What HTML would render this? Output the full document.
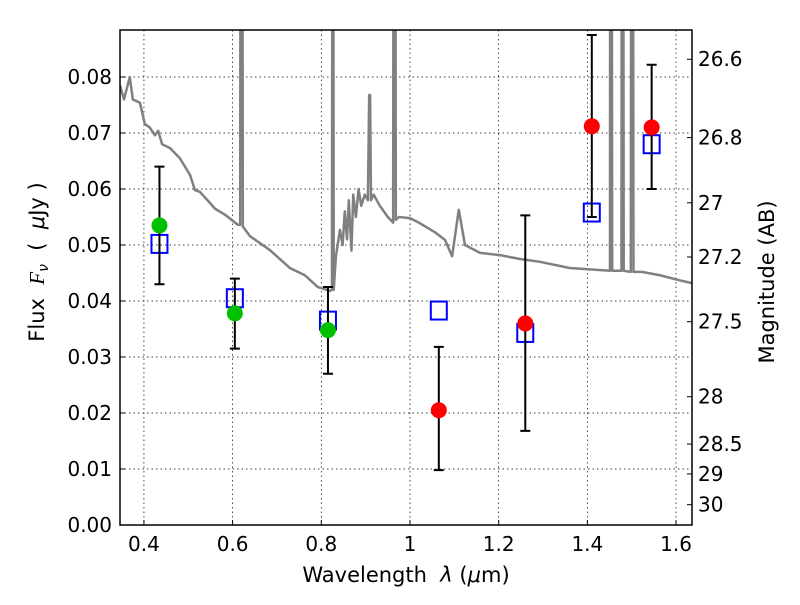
<!DOCTYPE html>
<html><head><meta charset="utf-8"><style>
body{margin:0;background:#fff;}
svg text{font-family:"DejaVu Sans","Liberation Sans",sans-serif;fill:#000;}
</style></head><body>
<svg id="chart" width="800" height="600" viewBox="0 0 800 600" xmlns="http://www.w3.org/2000/svg"></svg>
<script>
const xTicks=[0.4,0.6,0.8,1.0,1.2,1.4,1.6];
const xTickLabels=["0.4","0.6","0.8","1","1.2","1.4","1.6"];
const yTicks=[0,0.01,0.02,0.03,0.04,0.05,0.06,0.07,0.08];
const yTickLabels=["0.00","0.01","0.02","0.03","0.04","0.05","0.06","0.07","0.08"];
const magTicks=[26.6,26.8,27,27.2,27.5,28,28.5,29,30];
const magTickLabels=["26.6","26.8","27","27.2","27.5","28","28.5","29","30"];
const specWave=[0.346,0.355,0.368,0.375,0.391,0.402,0.413,0.425,0.432,0.441,0.459,0.481,0.504,0.515,0.526,0.549,0.56,0.583,0.612,0.617,0.619,0.621,0.623,0.639,0.684,0.729,0.763,0.792,0.82,0.824,0.826,0.828,0.833,0.842,0.848,0.853,0.858,0.862,0.868,0.872,0.878,0.884,0.89,0.898,0.905,0.908,0.91,0.912,0.918,0.932,0.95,0.962,0.964,0.966,0.968,0.975,1.0,1.02,1.056,1.079,1.095,1.11,1.124,1.158,1.203,1.248,1.293,1.36,1.451,1.452,1.454,1.456,1.477,1.478,1.48,1.482,1.498,1.5,1.502,1.504,1.523,1.564,1.608,1.636];
const specFlux=[0.0785,0.076,0.080,0.076,0.0754,0.0716,0.071,0.0696,0.0704,0.068,0.0673,0.0655,0.0625,0.0598,0.0595,0.0575,0.0565,0.0554,0.0536,0.0536,0.2,0.2,0.0533,0.0516,0.0491,0.0459,0.0446,0.0425,0.0418,0.042,0.2,0.042,0.048,0.0527,0.050,0.056,0.051,0.058,0.049,0.059,0.055,0.060,0.057,0.059,0.058,0.0768,0.0768,0.058,0.059,0.057,0.055,0.054,0.2,0.2,0.0545,0.055,0.0548,0.054,0.0523,0.0509,0.048,0.0563,0.050,0.0486,0.0482,0.0475,0.047,0.0459,0.0454,0.2,0.2,0.0454,0.0454,0.2,0.2,0.0454,0.0452,0.2,0.2,0.0452,0.0452,0.0446,0.0437,0.0432];
const greenWave=[0.435,0.605,0.815];
const greenFlux=[0.0535,0.0378,0.0348];
const greenLo=[0.043,0.0315,0.027];
const greenHi=[0.064,0.044,0.0425];
const redWave=[1.065,1.26,1.41,1.545];
const redFlux=[0.0205,0.036,0.0712,0.071];
const redLo=[0.0098,0.0168,0.055,0.060];
const redHi=[0.0318,0.0553,0.0875,0.0822];
const modelWave=[0.435,0.605,0.815,1.065,1.26,1.41,1.545];
const modelFlux=[0.0502,0.0405,0.0365,0.0383,0.0343,0.0558,0.068];

const L=120,R=692,T=30,B=525,X0=0.346,X1=1.636,Y0=0,Y1=0.0884;
const sx=v=>L+(v-X0)/(X1-X0)*(R-L);
const sy=v=>B-(v-Y0)/(Y1-Y0)*(B-T);
const magToFlux=m=>Math.pow(10,(23.9-m)/2.5);
const svg=document.getElementById('chart');
const NS='http://www.w3.org/2000/svg';
function mk(tag,attrs,parent){const e=document.createElementNS(NS,tag);for(const k in attrs)e.setAttribute(k,attrs[k]);(parent||svg).appendChild(e);return e;}

const defs=mk('clipPath',{id:'clip'});mk('rect',{x:L,y:T,width:R-L,height:B-T},defs);
xTicks.forEach((v,i)=>{
  const g=mk('line',{x1:sx(v),x2:sx(v),y1:T,y2:B,stroke:'#000','stroke-width':0.7,'stroke-dasharray':'1.5,3'});
  
  
  const t=mk('line',{x1:sx(v),x2:sx(v),y1:B,y2:B-5,stroke:'#000'});
  
  
  const tx=mk('text',{x:sx(v),y:B+26,'font-size':20,'text-anchor':'middle'});tx.textContent=xTickLabels[i];
  
  
});
yTicks.forEach((v,i)=>{
  if(v>0){const g=mk('line',{x1:L,x2:R,y1:sy(v),y2:sy(v),stroke:'#000','stroke-width':0.7,'stroke-dasharray':'1.5,3'});
  
  }
  const t=mk('line',{x1:L,x2:L+5,y1:sy(v),y2:sy(v),stroke:'#000'});
  
  
  const tx=mk('text',{x:L-8,y:sy(v)+7,'font-size':20,'text-anchor':'end'});tx.textContent=yTickLabels[i];
  
  
});
magTicks.forEach((m,i)=>{
  const y=sy(magToFlux(m));
  const t=mk('line',{x1:R-5,x2:R,y1:y,y2:y,stroke:'#000'});
  
  
  const tx=mk('text',{x:R+6,y:y+7,'font-size':20});tx.textContent=magTickLabels[i];
  
  
});
const sp=mk('polyline',{points:specWave.map((w,i)=>sx(w)+','+sy(specFlux[i])).join(' '),fill:'none',stroke:'#808080','stroke-width':2.5,'clip-path':'url(#clip)','stroke-linejoin':'round'});


modelWave.forEach((w,i)=>{
  const r=mk('rect',{x:sx(w)-8,y:sy(modelFlux[i])-9,width:16,height:18,fill:'none',stroke:'#0000ff','stroke-width':2});
  
  
});
function pts(wave,flux,lo,hi,color,name){
  wave.forEach((w,i)=>{
    const x=sx(w);
    const e=mk('path',{d:`M${x},${sy(lo[i])}V${sy(hi[i])}M${x-5},${sy(lo[i])}H${x+5}M${x-5},${sy(hi[i])}H${x+5}`,stroke:'#000','stroke-width':2,fill:'none'});
    
    
    const c=mk('circle',{cx:x,cy:sy(flux[i]),r:8,fill:color});
    
    
  });
}
pts(greenWave,greenFlux,greenLo,greenHi,'#00c000','detection');
pts(redWave,redFlux,redLo,redHi,'#ff0000','nondetection');
const f=mk('rect',{x:L,y:T,width:R-L,height:B-T,fill:'none',stroke:'#000','stroke-width':1.5});


const xl=mk('text',{x:406,y:582,'font-size':21,'text-anchor':'middle'});
xl.innerHTML='Wavelength&#160;&#160;<tspan font-style="italic">λ</tspan> (<tspan font-style="italic">μ</tspan>m)';


const yl=mk('text',{x:0,y:0,'font-size':21,'text-anchor':'middle',transform:'translate(44,262) rotate(-90)'});
yl.innerHTML='Flux&#160;&#160;<tspan font-style="italic" font-family="Liberation Serif">F</tspan><tspan font-style="italic" font-size="14" dy="4">ν</tspan><tspan dy="-4">&#160;&#160;(&#160;&#160;</tspan><tspan font-style="italic">μ</tspan>Jy )';


const ml=mk('text',{x:0,y:0,'font-size':21,'text-anchor':'middle',transform:'translate(774,282) rotate(-90)'});
ml.textContent='Magnitude (AB)';


</script>
</body></html>
